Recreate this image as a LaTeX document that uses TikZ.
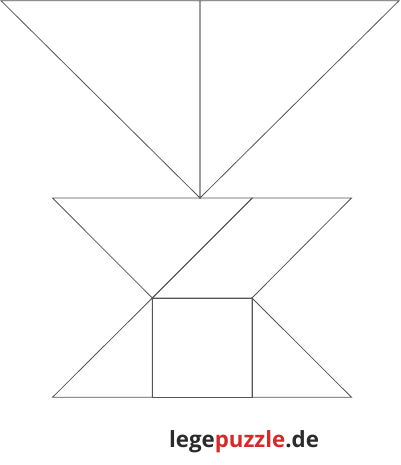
\documentclass[tikz,border=0pt]{standalone}
\usepackage{fontspec}
\setmainfont{Open Sans}
\definecolor{edge}{HTML}{555555}
\definecolor{logored}{HTML}{D42A2A}
\definecolor{logodark}{HTML}{2B2B2B}
\begin{document}
\begin{tikzpicture}[x=1pt,y=-1pt,
  piece/.style={draw=edge,line width=0.8pt,line join=miter},
  logo/.style={inner sep=0pt,anchor=base,font=\bfseries}]
\useasboundingbox (0,0) rectangle (400,465);
% top triangle halves
\coordinate (tl) at (1,0.7);
\coordinate (tm) at (200,0.7);
\coordinate (tr) at (399,0.7);
\coordinate (ap) at (200,198);
\draw[piece] (tl) -- (tm) -- (ap) -- cycle;
\draw[piece] (tm) -- (tr) -- (ap) -- cycle;
% middle triangle and parallelogram
\coordinate (ml) at (52.5,198);
\coordinate (mm) at (252.3,198);
\coordinate (mr) at (351.5,198);
\coordinate (sl) at (152.3,298);
\coordinate (sr) at (252,298);
\draw[piece] (ml) -- (mm) -- (sl) -- cycle;
\draw[piece] (mm) -- (mr) -- (sr) -- (sl) -- cycle;
% square
\coordinate (bl) at (52.5,397.3);
\coordinate (bsl) at (152.3,397.3);
\coordinate (bsr) at (252,397.3);
\coordinate (br) at (351.5,397.3);
\draw[piece] (sl) -- (sr) -- (bsr) -- (bsl) -- cycle;
% bottom triangles
\draw[piece] (sl) -- (bsl) -- (bl) -- cycle;
\draw[piece] (sr) -- (br) -- (bsr) -- cycle;
% logo
\node[logo] (logo) at (244,447.7) {\fontsize{22.3}{26}\selectfont\textcolor{logodark}{lege}\textcolor{logored}{puzzle}\textcolor{logodark}{.de}};
\end{tikzpicture}
\end{document}
